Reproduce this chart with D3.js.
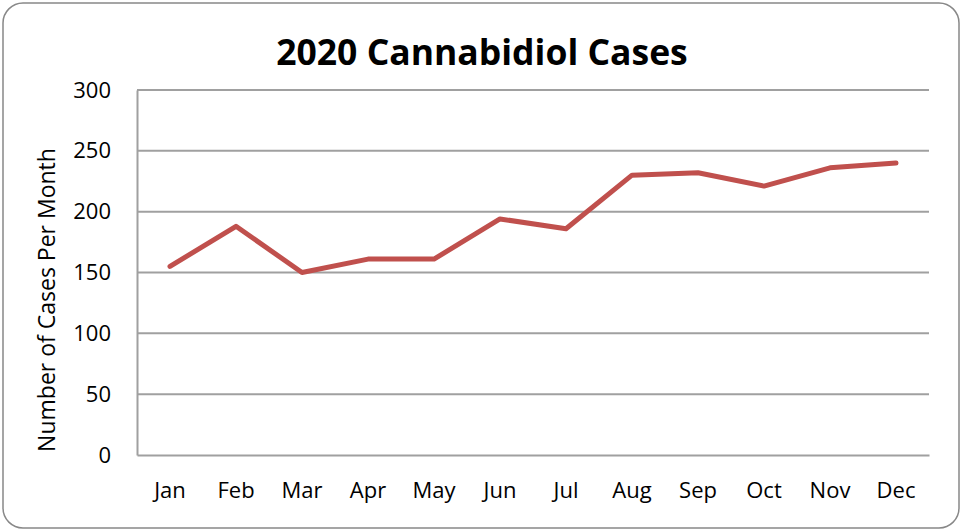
<!DOCTYPE html>
<html lang="en">
<head>
    <meta charset="UTF-8">
    <script src="https://cdnjs.cloudflare.com/ajax/libs/d3/7.8.5/d3.min.js"></script>
    <title>2020 Cannabidiol Cases</title>
    <style>
        body { margin: 0; background: #fff; }
        svg { display: block; font-family: "Open Sans", "Liberation Sans", sans-serif; }
    </style>
</head>
<body>
    <svg width="963" height="531"></svg>
    <script>
        var months = ["Jan", "Feb", "Mar", "Apr", "May", "Jun", "Jul", "Aug", "Sep", "Oct", "Nov", "Dec"];
        var cases = [155, 188, 150, 161, 161, 194, 186, 230, 232, 221, 236, 240];
        var yTicks = [0, 50, 100, 150, 200, 250, 300];

        drawChart();

        function drawChart() {
            var svg = d3.select("svg");

            // outer chart border
            svg.append("rect")
                .attr("x", 3).attr("y", 3)
                .attr("width", 956).attr("height", 525)
                .attr("rx", 20)
                .style("fill", "#fff")
                .style("stroke", "#888")
                .style("stroke-width", 1.5);

            var plotLeft = 137, plotRight = 929, plotTop = 90, plotBottom = 455;

            var xScale = d3.scaleBand().domain(months).range([plotLeft, plotRight]);
            var yScale = d3.scaleLinear().domain([0, 300]).range([plotBottom, plotTop]);

            // gridlines
            svg.append("g").selectAll("line")
                .data(yTicks.slice(1))
                .enter()
                .append("line")
                .attr("x1", plotLeft).attr("x2", plotRight)
                .attr("y1", d => yScale(d)).attr("y2", d => yScale(d))
                .style("stroke", "#a0a0a0")
                .style("stroke-width", 2);

            var yAxis = d3.axisLeft(yScale).tickValues(yTicks).tickSize(0).tickPadding(26);
            var yG = svg.append("g").attr("transform", "translate(" + plotLeft + ",0)").call(yAxis);
            yG.attr("font-family", null);
            yG.select(".domain").style("stroke", "#a0a0a0").style("stroke-width", 2);
            yG.selectAll("text").style("font-size", "22px").style("fill", "#000");

            var xAxis = d3.axisBottom(xScale).tickSize(0).tickPadding(27);
            var xG = svg.append("g").attr("transform", "translate(0," + plotBottom + ")").call(xAxis);
            xG.attr("font-family", null);
            xG.select(".domain").style("stroke", "#a0a0a0").style("stroke-width", 2);
            xG.selectAll("text").style("font-size", "22px").style("fill", "#000");

            var line = d3.line()
                .x((d, i) => xScale(months[i]) + xScale.bandwidth() / 2)
                .y(d => yScale(d));

            svg.append("path")
                .datum(cases)
                .attr("d", line)
                .style("fill", "none")
                .style("stroke", "#c0504d")
                .style("stroke-width", 5)
                .style("stroke-linejoin", "round")
                .style("stroke-linecap", "round");

            svg.append("text")
                .attr("x", 482).attr("y", 65)
                .attr("text-anchor", "middle")
                .style("font-size", "35.5px")
                .style("font-weight", "bold")
                .text("2020 Cannabidiol Cases");

            svg.append("text")
                .attr("transform", "translate(55,300) rotate(-90)")
                .attr("text-anchor", "middle")
                .style("font-size", "23px")
                .text("Number of Cases Per Month");
        }
    </script>
</body>
</html>
